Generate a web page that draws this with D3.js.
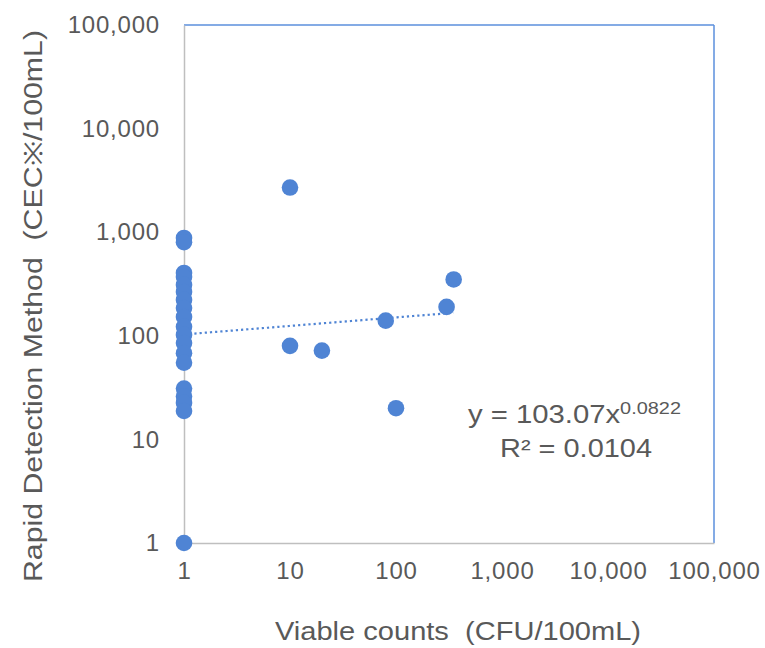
<!DOCTYPE html>
<html>
<head>
<meta charset="utf-8">
<script src="https://cdn.jsdelivr.net/npm/d3@7"></script>
<style>
  body { margin: 0; background: #fff; }
  svg { display: block; font-family: "Liberation Sans", Arial, sans-serif; }
</style>
</head>
<body>
<svg id="chart" width="765" height="648"></svg>
<script>
// x = viable counts (CFU/100mL), y = rapid method (CEC/100mL)
var viableCounts = [1, 1, 1, 1, 1, 1, 1, 1, 1, 1, 1, 1, 1, 1, 1, 1, 1, 1, 1,
                    10, 10, 20, 80, 100, 300, 350];
var rapidCounts  = [880, 800, 404, 370, 310, 265, 222, 185, 152, 122, 102, 85, 68, 55,
                    31, 26, 22.5, 18.8, 1,
                    2700, 80, 72, 140, 20, 190, 350];

var tickValues = [1, 10, 100, 1000, 10000, 100000];
var fitA = 103.07, fitB = 0.0822;
var fitR2 = "0.0104";

var svg = d3.select("#chart");
var margin = {left: 184, top: 25, right: 51, bottom: 105};
var width = 765 - margin.left - margin.right,
    height = 648 - margin.top - margin.bottom;

var x = d3.scaleLog().domain([1, 100000]).range([0, width]);
var y = d3.scaleLog().domain([1, 100000]).range([height, 0]);
var fmt = d3.format(",");
var textColor = "#595959";
var blue = "#4f84d4";

var g = svg.append("g").attr("transform", "translate(" + margin.left + "," + margin.top + ")");

// plot area border (top and right are blue in the original)
g.append("line").attr("x1", 0).attr("x2", width).attr("y1", 0).attr("y2", 0)
    .attr("stroke", "#5b8fdc").attr("stroke-width", 1.5);
g.append("line").attr("x1", width).attr("x2", width).attr("y1", 0).attr("y2", height)
    .attr("stroke", "#5b8fdc").attr("stroke-width", 1.5);

var xAxis = g.append("g").attr("transform", "translate(0," + height + ")")
    .call(d3.axisBottom(x).tickValues(tickValues).tickFormat(fmt).tickSize(0).tickPadding(19));
var yAxis = g.append("g")
    .call(d3.axisLeft(y).tickValues(tickValues).tickFormat(fmt).tickSize(0).tickPadding(24));

[xAxis, yAxis].forEach(function(ax) {
    ax.select(".domain").attr("stroke", "#bfbfbf").attr("stroke-width", 1.5);
    ax.selectAll("text").attr("fill", textColor)
        .style("font-size", "24px").style("letter-spacing", "0.8px");
});

// trendline: power fit over the data range
var xmin = d3.min(viableCounts), xmax = d3.max(viableCounts);
var fitPts = d3.range(0, 101).map(function(i) {
    var xv = Math.pow(10, Math.log10(xmin) + (Math.log10(xmax) - Math.log10(xmin)) * i / 100);
    return [xv, fitA * Math.pow(xv, fitB)];
});
g.append("path")
    .datum(fitPts)
    .attr("fill", "none")
    .attr("stroke", blue)
    .attr("stroke-width", 2.2)
    .attr("stroke-dasharray", "2.2,3")
    .attr("d", d3.line().x(function(d){ return x(d[0]); }).y(function(d){ return y(d[1]); }));

g.selectAll("circle.pt")
    .data(viableCounts.map(function(v, i){ return [v, rapidCounts[i]]; }))
    .enter().append("circle")
    .attr("class", "pt")
    .attr("cx", function(d){ return x(d[0]); })
    .attr("cy", function(d){ return y(d[1]); })
    .attr("r", 8.3)
    .attr("fill", blue);

// equation label (glyphs are a bit wider in the original, so stretch them)
var eq = g.append("text")
    .attr("x", 284).attr("y", 398)
    .attr("fill", textColor)
    .attr("textLength", 213)
    .attr("lengthAdjust", "spacingAndGlyphs")
    .style("font-size", "25px");
eq.append("tspan").text("y = " + fitA + "x");
eq.append("tspan").attr("dy", -9).style("font-size", "17px").text(String(fitB));
g.append("text")
    .attr("x", 316).attr("y", 432)
    .attr("fill", textColor)
    .attr("textLength", 152)
    .attr("lengthAdjust", "spacingAndGlyphs")
    .style("font-size", "25px")
    .text("R² = " + fitR2);

// axis titles
svg.append("text")
    .attr("x", 275).attr("y", 640)
    .attr("fill", textColor)
    .attr("textLength", 366)
    .attr("lengthAdjust", "spacingAndGlyphs")
    .style("font-size", "25px")
    .style("white-space", "pre")
    .text("Viable counts  (CFU/100mL)");

svg.append("text")
    .attr("transform", "translate(42,582) rotate(-90)")
    .attr("fill", textColor)
    .attr("textLength", 552)
    .attr("lengthAdjust", "spacingAndGlyphs")
    .style("font-size", "25px")
    .style("white-space", "pre")
    .text("Rapid Detection Method  (CEC※/100mL)");
</script>
</body>
</html>
